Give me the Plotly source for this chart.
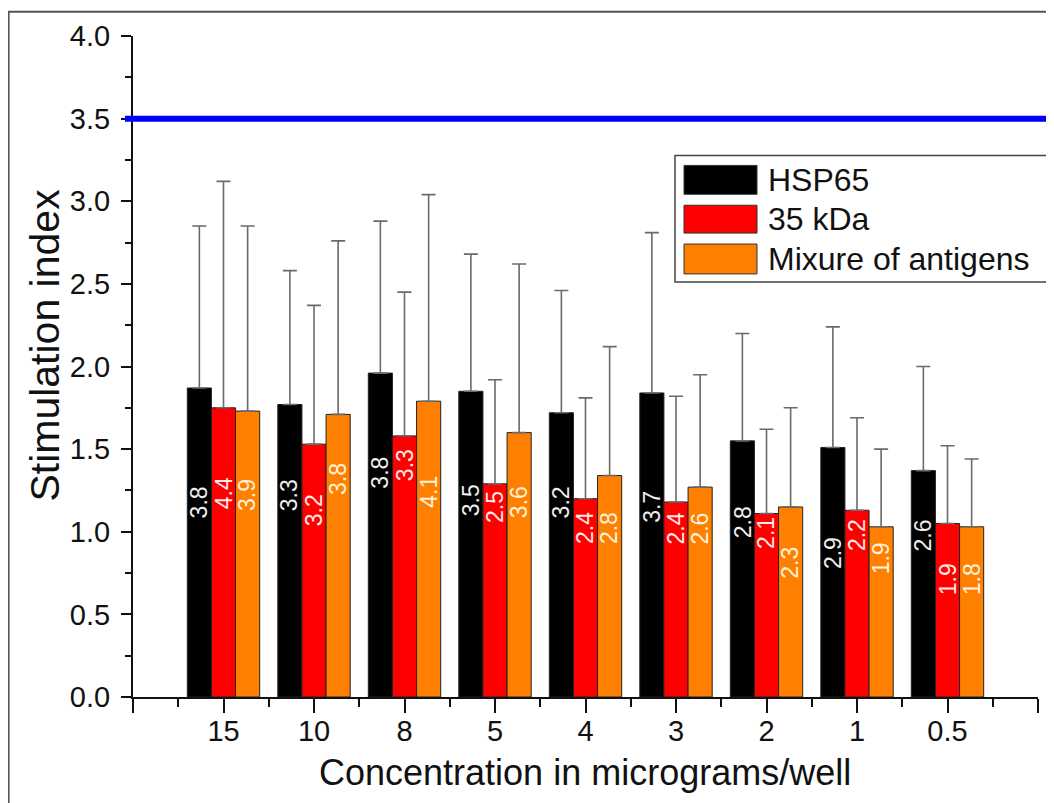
import plotly.graph_objects as go

# ---------------- data ----------------
categories = ["15", "10", "8", "5", "4", "3", "2", "1", "0.5"]
series_names = ["HSP65", "35 kDa", "Mixure of antigens"]

hsp65 = [1.87, 1.77, 1.96, 1.85, 1.72, 1.84, 1.55, 1.51, 1.37]
hsp65_err = [0.98, 0.81, 0.92, 0.83, 0.74, 0.97, 0.65, 0.73, 0.63]

kda35 = [1.75, 1.53, 1.58, 1.29, 1.20, 1.18, 1.11, 1.13, 1.05]
kda35_err = [1.37, 0.84, 0.87, 0.63, 0.61, 0.64, 0.51, 0.56, 0.47]

mixture = [1.73, 1.71, 1.79, 1.60, 1.34, 1.27, 1.15, 1.03, 1.03]
mixture_err = [1.12, 1.05, 1.25, 1.02, 0.78, 0.68, 0.60, 0.47, 0.41]

hsp65_labels = ["3.8", "3.3", "3.8", "3.5", "3.2", "3.7", "2.8", "2.9", "2.6"]
kda35_labels = ["4.4", "3.2", "3.3", "2.5", "2.4", "2.4", "2.1", "2.2", "1.9"]
mixture_labels = ["3.9", "3.8", "4.1", "3.6", "2.8", "2.6", "2.3", "1.9", "1.8"]

reference_level = 3.5

# label anchor heights (data units, layout only)
hsp65_label_y = [1.18, 1.22, 1.36, 1.19, 1.18, 1.15, 1.06, 0.87, 0.98]
kda35_label_y = [1.23, 1.13, 1.40, 1.15, 1.02, 1.02, 0.99, 0.98, 0.71]
mixture_label_y = [1.22, 1.32, 1.24, 1.18, 1.02, 1.02, 0.81, 0.84, 0.71]

# ---------------- layout geometry ----------------
# page body has an 8px margin; positions below are given in screen pixels
OFF = 8
W, H = 1054 - OFF, 803 - OFF
SX0, SX1, SY0, SY1 = 133, 1038, 33, 697        # plot area in screen pixels
L, R = SX0 - OFF, W - (SX1 - OFF)
T, B = SY0 - OFF, H - (SY1 - OFF)
PW, PH = SX1 - SX0, SY1 - SY0


def px(x):
    return (x - SX0) / PW


def py(y):
    return (SY1 - y) / PH


FONT = "Arial, Liberation Sans, sans-serif"
colors = ["#000000", "#ff0000", "#ff8000"]
label_colors = ["#eeeeee", "#ffe8e8", "#fff2dc"]

xpos = list(range(1, len(categories) + 1))
values = [hsp65, kda35, mixture]
errors = [hsp65_err, kda35_err, mixture_err]
labels = [hsp65_labels, kda35_labels, mixture_labels]
label_ys = [hsp65_label_y, kda35_label_y, mixture_label_y]

fig = go.Figure()
for name, v, e, c in zip(series_names, values, errors, colors):
    fig.add_trace(go.Bar(
        x=xpos, y=v, name=name,
        marker=dict(color=c, line=dict(color="#222222", width=1)),
        error_y=dict(type="data", array=e, symmetric=False,
                     arrayminus=[0] * len(e), color="#6a6a6a",
                     thickness=1.6, width=7),
        showlegend=False,
    ))

bw = 0.8 / 3
annotations = []
for k in range(3):
    off = (k - 1) * bw
    for i, x in enumerate(xpos):
        annotations.append(dict(
            x=x + off, y=label_ys[k][i], xref="x", yref="y",
            text=labels[k][i], textangle=-90, showarrow=False,
            font=dict(family=FONT, size=23, color=label_colors[k]),
            xanchor="center", yanchor="middle",
        ))

# axis titles
annotations.append(dict(
    x=px(45), y=py(344), xref="paper", yref="paper",
    text="Stimulation index", textangle=-90, showarrow=False,
    font=dict(family=FONT, size=41, color="#111111"),
    xanchor="center", yanchor="middle"))
annotations.append(dict(
    x=px(585), y=py(773), xref="paper", yref="paper",
    text="Concentration in micrograms/well", showarrow=False,
    font=dict(family=FONT, size=36, color="#111111"),
    xanchor="center", yanchor="middle"))

shapes = []
# outer frame
shapes.append(dict(type="rect", xref="paper", yref="paper",
                   x0=px(8.6), x1=px(1100), y0=py(850), y1=py(8.6),
                   line=dict(color="#555555", width=2), fillcolor="rgba(0,0,0,0)",
                   layer="below"))
# reference line
shapes.append(dict(type="line", xref="paper", yref="y",
                   x0=px(125), x1=px(1100), y0=reference_level, y1=reference_level,
                   line=dict(color="#0000ff", width=6), layer="above"))

# custom legend
shapes.append(dict(type="rect", xref="paper", yref="paper",
                   x0=px(675), x1=px(1050), y0=py(280), y1=py(153),
                   line=dict(color="#444444", width=1.5), fillcolor="white",
                   layer="above"))
rows = [(163, 192), (203, 231), (242, 272)]
for (y0, y1), c, name in zip(rows, colors, series_names):
    shapes.append(dict(type="rect", xref="paper", yref="paper",
                       x0=px(684), x1=px(757), y0=py(y1), y1=py(y0),
                       line=dict(color="#333333", width=1), fillcolor=c,
                       layer="above"))
    annotations.append(dict(
        x=px(766), y=py((y0 + y1) / 2), xref="paper", yref="paper",
        text=name, showarrow=False, xanchor="left", yanchor="middle",
        font=dict(family=FONT, size=32, color="#111111")))

fig.update_layout(
    width=W, height=H,
    margin=dict(l=L, r=R, t=T, b=B, pad=0),
    paper_bgcolor="white", plot_bgcolor="white",
    barmode="group", bargap=0.2, bargroupgap=0,
    font=dict(family=FONT, size=30, color="#111111"),
    shapes=shapes, annotations=annotations,
    xaxis=dict(
        range=[0, 10], tickmode="array",
        tickvals=list(range(0, 11)),
        ticktext=[""] + categories + [""],
        ticks="outside", ticklen=14, tickwidth=2, tickcolor="#111111",
        ticklabelstandoff=-7,
        minor=dict(dtick=0.5, tick0=0, ticks="outside", ticklen=8,
                   tickwidth=2, tickcolor="#111111"),
        showline=True, linecolor="#111111", linewidth=2,
        showgrid=False, zeroline=False,
        tickfont=dict(family=FONT, size=29, color="#111111"),
    ),
    yaxis=dict(
        range=[0, 4], dtick=0.5, tick0=0, tickformat=".1f",
        ticks="outside", ticklen=10, tickwidth=2, tickcolor="#111111",
        ticklabelstandoff=5,
        minor=dict(dtick=0.25, ticks="outside", ticklen=6,
                   tickwidth=2, tickcolor="#111111"),
        showline=True, linecolor="#111111", linewidth=2,
        showgrid=False, zeroline=False,
        tickfont=dict(family=FONT, size=29, color="#111111"),
    ),
)

fig.write_html("out.html")
